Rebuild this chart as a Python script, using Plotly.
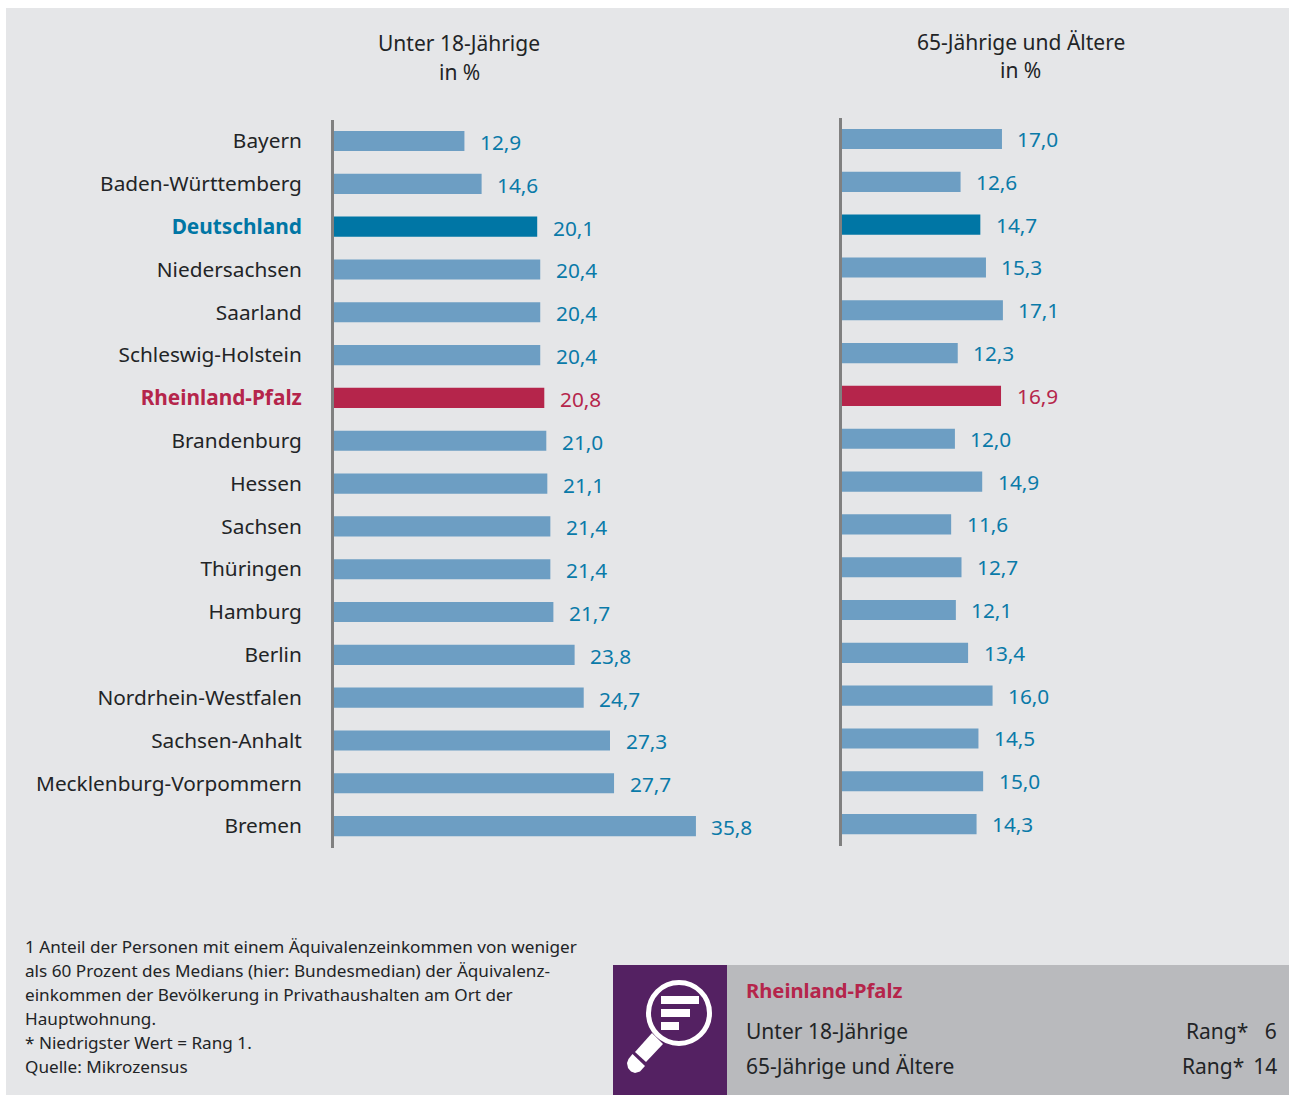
import plotly.graph_objects as go

categories = ["Bayern", "Baden-Württemberg", "Deutschland", "Niedersachsen", "Saarland",
              "Schleswig-Holstein", "Rheinland-Pfalz", "Brandenburg", "Hessen", "Sachsen",
              "Thüringen", "Hamburg", "Berlin", "Nordrhein-Westfalen", "Sachsen-Anhalt",
              "Mecklenburg-Vorpommern", "Bremen"]
under18 = [12.9, 14.6, 20.1, 20.4, 20.4, 20.4, 20.8, 21.0, 21.1, 21.4, 21.4, 21.7, 23.8, 24.7, 27.3, 27.7, 35.8]
over65 = [17.0, 12.6, 14.7, 15.3, 17.1, 12.3, 16.9, 12.0, 14.9, 11.6, 12.7, 12.1, 13.4, 16.0, 14.5, 15.0, 14.3]
footnotes = ["1 Anteil der Personen mit einem Äquivalenzeinkommen von weniger",
             "als 60 Prozent des Medians (hier: Bundesmedian) der Äquivalenz-",
             "einkommen der Bevölkerung in Privathaushalten am Ort der",
             "Hauptwohnung.",
             "* Niedrigster Wert = Rang 1.",
             "Quelle: Mikrozensus"]

W, H = 1289, 1095
FONT = "Noto Sans"
BAR, DE, RP = "#6d9ec3", "#0076a5", "#b5254b"
VALC = "#0a7aa8"
TXT = "#222426"
special = {"Deutschland": DE, "Rheinland-Pfalz": RP}
colors = [special.get(c, BAR) for c in categories]
valcolors = [RP if c == "Rheinland-Pfalz" else VALC for c in categories]
ticktext = [f'<b><span style="color:{special[c]}">{c}</span></b>' if c in special else c for c in categories]

px = lambda x: x / W
py = lambda y: 1 - y / H

fig = go.Figure()
fig.add_trace(go.Bar(y=categories, x=under18, orientation="h", marker=dict(color=colors, line_width=0),
                     xaxis="x", yaxis="y", showlegend=False))
fig.add_trace(go.Bar(y=categories, x=over65, orientation="h", marker=dict(color=colors, line_width=0),
                     xaxis="x2", yaxis="y2", showlegend=False))

ann = []
def text(x, y, s, size=21, color=TXT, anchor="left"):
    ann.append(dict(xref="paper", yref="paper", x=px(x), y=py(y), text=s, showarrow=False,
                    xanchor=anchor, yanchor="middle", align=anchor,
                    font=dict(family=FONT, size=size, color=color)))

for vals, xr, yr, ys in ((under18, "x", "y", 1), (over65, "x2", "y2", 0)):
    for c, v, col in zip(categories, vals, valcolors):
        ann.append(dict(xref=xr, yref=yr, x=v, y=c, text=f"{v:.1f}".replace(".", ","), showarrow=False,
                        xanchor="left", yanchor="middle", xshift=13.5, yshift=-ys,
                        font=dict(family=FONT, size=20.8, color=col)))

text(459, 43, "Unter 18-Jährige", anchor="center")
text(459, 72, "in %", anchor="center")
text(1021, 42, "65-Jährige und Ältere", anchor="center")
text(1021, 70, "in %", anchor="center")
for i, line in enumerate(footnotes):
    text(23, 946.5 + i * 24, line, size=17.15)
text(744, 990, "<b>Rheinland-Pfalz</b>", size=20.2, color=RP)
text(744, 1031, "Unter 18-Jährige")
text(744, 1066, "65-Jährige und Ältere")
text(1279, 1031, "Rang*   6", anchor="right")
text(1279, 1066, "Rang* \u200914", anchor="right")

def rect(x0, y0, x1, y1, color, layer="below"):
    return dict(type="rect", xref="paper", yref="paper", x0=px(x0), x1=px(x1), y0=py(y0), y1=py(y1),
                fillcolor=color, line_width=0, layer=layer)
def path(points, color):
    d = "M" + " L".join(f"{px(a)},{py(b)}" for a, b in points) + " Z"
    return dict(type="path", xref="paper", yref="paper", path=d, fillcolor=color, line_width=0, layer="above")

WHITE = "#ffffff"
PURPLE = "#542162"
shapes = [
    rect(6, 8, 1289, 1095, "#e5e6e8"),
    rect(727, 965, 1289, 1095, "#b9babd"),
    rect(613, 965, 727, 1095, PURPLE),
    dict(type="circle", xref="paper", yref="paper", x0=px(648.5), x1=px(709.5), y0=py(1043.5), y1=py(982.5),
         fillcolor=PURPLE, line=dict(color=WHITE, width=5), layer="above"),
    rect(661, 996, 699, 1004, WHITE, "above"),
    rect(661, 1009, 690, 1017, WHITE, "above"),
    rect(661, 1022, 679, 1030, WHITE, "above"),
    path([(652, 1033), (663, 1044), (646, 1062), (635, 1052)], WHITE),
    path([(632.5, 1054), (645, 1066), (640, 1071.5), (635, 1073), (631, 1071.5), (628, 1068), (627, 1063), (628.5, 1059)], WHITE),
]

ROW = 42.82
fig.update_layout(
    width=W, height=H, autosize=False, margin=dict(l=0, r=0, t=0, b=0),
    paper_bgcolor="#ffffff", plot_bgcolor="rgba(0,0,0,0)", bargap=0.53,
    shapes=shapes, annotations=ann, showlegend=False,
    xaxis=dict(domain=[px(334), px(800)], range=[0, 466 / 10.11], visible=False, fixedrange=True),
    xaxis2=dict(domain=[px(842), px(1280)], range=[0, 438 / 9.41], visible=False, fixedrange=True),
    yaxis=dict(domain=[py(119.6 + 17 * ROW), py(119.6)], autorange=False, range=[16.5, -0.5], anchor="x",
               type="category", categoryorder="array", categoryarray=categories,
               tickmode="array", tickvals=categories, ticktext=ticktext,
               tickfont=dict(family=FONT, size=20.8, color=TXT), ticks="outside", ticklen=25,
               tickcolor="rgba(0,0,0,0)", showline=True, linecolor="#808080", linewidth=3, showgrid=False),
    yaxis2=dict(domain=[py(117.6 + 17 * ROW), py(117.6)], autorange=False, range=[16.5, -0.5], anchor="x2",
                type="category", categoryorder="array", categoryarray=categories, showticklabels=False,
                ticks="", showline=True, linecolor="#808080", linewidth=3, showgrid=False),
)
fig.write_html("out.html", config=dict(displayModeBar=False),
               post_script="document.body.style.margin='0';document.documentElement.style.overflow='hidden';")
